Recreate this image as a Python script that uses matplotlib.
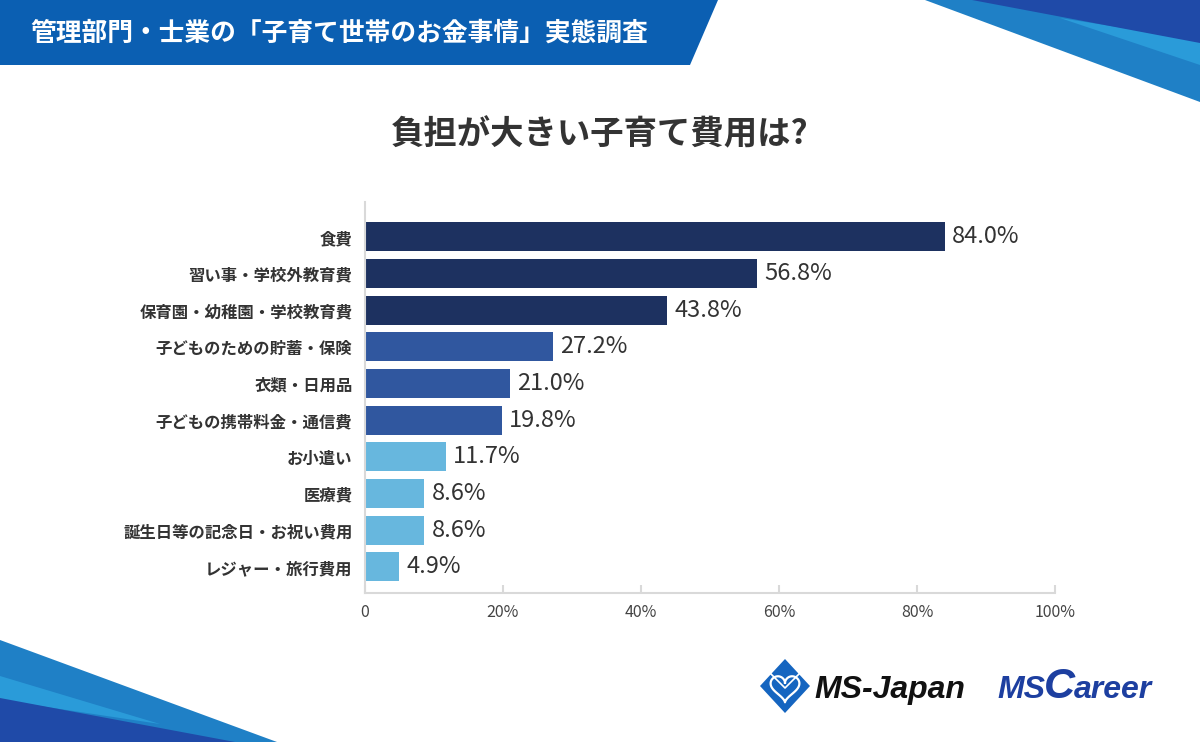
import matplotlib
matplotlib.use('Agg')
import matplotlib.pyplot as plt
from matplotlib.patches import Polygon
import numpy as np

plt.rcParams['font.family'] = ['Noto Sans CJK JP', 'DejaVu Sans']

# data
categories = ['食費', '習い事・学校外教育費', '保育園・幼稚園・学校教育費', '子どものための貯蓄・保険',
              '衣類・日用品', '子どもの携帯料金・通信費', 'お小遣い', '医療費',
              '誕生日等の記念日・お祝い費用', 'レジャー・旅行費用']
values = [84.0, 56.8, 43.8, 27.2, 21.0, 19.8, 11.7, 8.6, 8.6, 4.9]
ticks = [0, 20, 40, 60, 80, 100]
tick_labels = ['0', '20%', '40%', '60%', '80%', '100%']

header = '管理部門・士業の「子育て世帯のお金事情」実態調査'
title = '負担が大きい子育て費用は?'

DARK = '#1d3160'
MID = '#30579f'
LIGHT = '#67b7de'
bar_colors = [DARK] * 3 + [MID] * 3 + [LIGHT] * 4

W, H = 1200, 742
fig = plt.figure(figsize=(W / 100, H / 100), dpi=100)

# background / decoration layer in pixel coordinates
bg = fig.add_axes([0, 0, 1, 1], zorder=0)
bg.set_xlim(0, W)
bg.set_ylim(H, 0)
bg.axis('off')

# header band
bg.add_patch(Polygon([(0, 0), (718, 0), (690, 65), (0, 65)], closed=True,
                     facecolor='#0b5fb2', edgecolor='none'))
bg.text(30, 33, header, color='white', fontsize=18.5, fontweight='bold',
        va='center', ha='left')

# top right stripes
bg.add_patch(Polygon([(925, 0), (1200, 0), (1200, 102)], facecolor='#1f80c6', edgecolor='none'))
bg.add_patch(Polygon([(1060, 18), (1200, 40), (1200, 65)], facecolor='#2a9bd9', edgecolor='none'))
bg.add_patch(Polygon([(972, 0), (1200, 0), (1200, 43)], facecolor='#1f4aa8', edgecolor='none'))

# bottom left stripes
bg.add_patch(Polygon([(0, 640), (0, 742), (277, 742)], facecolor='#1f80c6', edgecolor='none'))
bg.add_patch(Polygon([(0, 676), (0, 700), (160, 724)], facecolor='#2a9bd9', edgecolor='none'))
bg.add_patch(Polygon([(0, 698), (0, 742), (235, 742)], facecolor='#1f4aa8', edgecolor='none'))

# chart title
bg.text(600, 135, title, color='#333333', fontsize=24, fontweight='bold',
        ha='center', va='center')

# logos
cx, cy = 785, 686
bg.add_patch(Polygon([(cx, cy - 27), (cx + 25, cy), (cx, cy + 27), (cx - 25, cy)],
                     facecolor='#1565c0', edgecolor='none'))
t = np.linspace(0, 2 * np.pi, 100)
hx = 16 * np.sin(t) ** 3
hy = 13 * np.cos(t) - 5 * np.cos(2 * t) - 2 * np.cos(3 * t) - np.cos(4 * t)
bg.plot(cx + hx * 0.9, cy - hy * 0.9 + 1, color='white', lw=1.6)
bg.plot([cx - 14, cx, cx + 14], [cy - 12, cy + 2, cy - 12], color='white', lw=1.2)

logo_font = dict(fontweight='bold', fontstyle='italic', family='Liberation Sans',
                 ha='left', va='baseline')
bg.text(814, 698, 'MS-Japan', color='#111111', fontsize=23, **logo_font)

renderer = fig.canvas.get_renderer()
x = 997
for part, size in [('MS', 23), ('C', 31), ('areer', 23)]:
    txt = bg.text(x, 698, part, color='#1d3fa0', fontsize=size, **logo_font)
    x += txt.get_window_extent(renderer).width - 1

# main bar chart
ax = fig.add_axes([365 / W, 1 - 593 / H, 690 / W, 391 / H], zorder=1)
ax.patch.set_alpha(0)
y = np.arange(len(categories))
ax.barh(y, values, height=0.79, color=bar_colors)
ax.set_xlim(0, 100)
ax.set_ylim(9.71, -0.95)

for yi, v in zip(y, values):
    ax.text(v + 1.1, yi, f'{v:.1f}%', va='center', ha='left',
            fontsize=17, color='#333333')

ax.set_yticks(y)
ax.set_yticklabels(categories, fontsize=11.8, fontweight='bold', color='#333333')
ax.tick_params(axis='y', length=0, pad=9)
ax.set_xticks(ticks)
ax.set_xticklabels(tick_labels, fontsize=11.5, color='#444444')
ax.tick_params(axis='x', direction='in', length=6, width=1.5, color='#d9d9d9', pad=8)

for side in ['top', 'right']:
    ax.spines[side].set_visible(False)
for side in ['left', 'bottom']:
    ax.spines[side].set_color('#d9d9d9')
    ax.spines[side].set_linewidth(1.5)

fig.savefig('out.png', dpi=100)
